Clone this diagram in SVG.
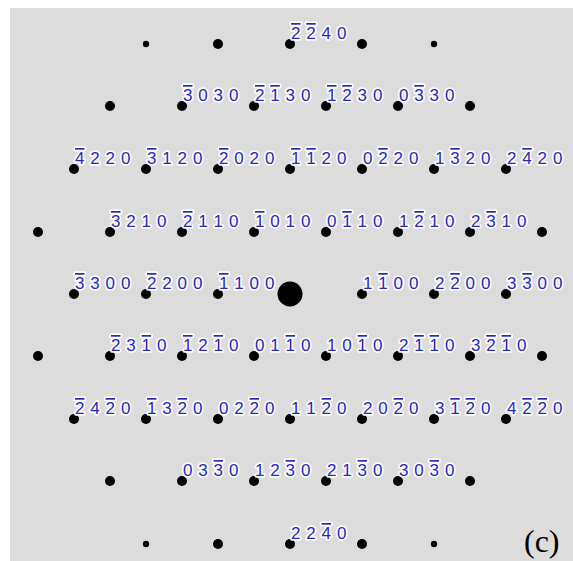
<svg xmlns="http://www.w3.org/2000/svg" width="573" height="561" viewBox="0 0 573 561">
<style>
.bg{fill:#dcdcdc}
.d{fill:#000}
.t{font-family:"Liberation Sans",Arial,sans-serif;font-size:17px;fill:#2a2ab4;stroke:#fff;stroke-width:3.5px;stroke-linejoin:round;stroke-opacity:.9;paint-order:stroke}
.o{text-decoration:overline}
.c{font-family:"Liberation Serif","Times New Roman",serif;font-size:32px;fill:#000}
</style>
<rect class="bg" x="10" y="8" width="563" height="553"/>
<g id="connectors"/>
<!-- row 0 -->
<g id="r0a"><circle class="d" cx="146" cy="44" r="3.2"/></g>
<g id="r0b"><circle class="d" cx="218" cy="44" r="5"/></g>
<g id="r0c"><circle class="d" cx="290" cy="44" r="5"/><text class="t" x="291 306.3 321.6 336.9" y="39"><tspan class="o">2</tspan><tspan class="o">2</tspan>40</text></g>
<g id="r0d"><circle class="d" cx="362" cy="44" r="5"/></g>
<g id="r0e"><circle class="d" cx="434" cy="44" r="3.2"/></g>
<!-- row 1 -->
<g id="r1a"><circle class="d" cx="110" cy="106" r="5"/></g>
<g id="r1b"><circle class="d" cx="182" cy="106" r="5"/><text class="t" x="183 198.3 213.6 228.9" y="101"><tspan class="o">3</tspan>030</text></g>
<g id="r1c"><circle class="d" cx="254" cy="106" r="5"/><text class="t" x="255 270.3 285.6 300.9" y="101"><tspan class="o">2</tspan><tspan class="o">1</tspan>30</text></g>
<g id="r1d"><circle class="d" cx="326" cy="106" r="5"/><text class="t" x="327 342.3 357.6 372.9" y="101"><tspan class="o">1</tspan><tspan class="o">2</tspan>30</text></g>
<g id="r1e"><circle class="d" cx="398" cy="106" r="5"/><text class="t" x="399 414.3 429.6 444.9" y="101">0<tspan class="o">3</tspan>30</text></g>
<g id="r1f"><circle class="d" cx="470" cy="106" r="5"/></g>
<!-- row 2 -->
<g id="r2a"><circle class="d" cx="74" cy="169" r="5"/><text class="t" x="75 90.3 105.6 120.9" y="164"><tspan class="o">4</tspan>220</text></g>
<g id="r2b"><circle class="d" cx="146" cy="169" r="5"/><text class="t" x="147 162.3 177.6 192.9" y="164"><tspan class="o">3</tspan>120</text></g>
<g id="r2c"><circle class="d" cx="218" cy="169" r="5"/><text class="t" x="219 234.3 249.6 264.9" y="164"><tspan class="o">2</tspan>020</text></g>
<g id="r2d"><circle class="d" cx="290" cy="169" r="5"/><text class="t" x="291 306.3 321.6 336.9" y="164"><tspan class="o">1</tspan><tspan class="o">1</tspan>20</text></g>
<g id="r2e"><circle class="d" cx="362" cy="169" r="5"/><text class="t" x="363 378.3 393.6 408.9" y="164">0<tspan class="o">2</tspan>20</text></g>
<g id="r2f"><circle class="d" cx="434" cy="169" r="5"/><text class="t" x="435 450.3 465.6 480.9" y="164">1<tspan class="o">3</tspan>20</text></g>
<g id="r2g"><circle class="d" cx="506" cy="169" r="5"/><text class="t" x="507 522.3 537.6 552.9" y="164">2<tspan class="o">4</tspan>20</text></g>
<!-- row 3 -->
<g id="r3a"><circle class="d" cx="38" cy="232" r="5"/></g>
<g id="r3b"><circle class="d" cx="110" cy="232" r="5"/><text class="t" x="111 126.3 141.6 156.9" y="227"><tspan class="o">3</tspan>210</text></g>
<g id="r3c"><circle class="d" cx="182" cy="232" r="5"/><text class="t" x="183 198.3 213.6 228.9" y="227"><tspan class="o">2</tspan>110</text></g>
<g id="r3d"><circle class="d" cx="254" cy="232" r="5"/><text class="t" x="255 270.3 285.6 300.9" y="227"><tspan class="o">1</tspan>010</text></g>
<g id="r3e"><circle class="d" cx="326" cy="232" r="5"/><text class="t" x="327 342.3 357.6 372.9" y="227">0<tspan class="o">1</tspan>10</text></g>
<g id="r3f"><circle class="d" cx="398" cy="232" r="5"/><text class="t" x="399 414.3 429.6 444.9" y="227">1<tspan class="o">2</tspan>10</text></g>
<g id="r3g"><circle class="d" cx="470" cy="232" r="5"/><text class="t" x="471 486.3 501.6 516.9" y="227">2<tspan class="o">3</tspan>10</text></g>
<g id="r3h"><circle class="d" cx="542" cy="232" r="5"/></g>
<!-- row 4 -->
<g id="r4a"><circle class="d" cx="74" cy="294" r="5"/><text class="t" x="75 90.3 105.6 120.9" y="289"><tspan class="o">3</tspan>300</text></g>
<g id="r4b"><circle class="d" cx="146" cy="294" r="5"/><text class="t" x="147 162.3 177.6 192.9" y="289"><tspan class="o">2</tspan>200</text></g>
<g id="r4c"><circle class="d" cx="218" cy="294" r="5"/><text class="t" x="219 234.3 249.6 264.9" y="289"><tspan class="o">1</tspan>100</text></g>
<g id="center"><circle class="d" cx="290" cy="294" r="12.5"/></g>
<g id="r4e"><circle class="d" cx="362" cy="294" r="5"/><text class="t" x="363 378.3 393.6 408.9" y="289">1<tspan class="o">1</tspan>00</text></g>
<g id="r4f"><circle class="d" cx="434" cy="294" r="5"/><text class="t" x="435 450.3 465.6 480.9" y="289">2<tspan class="o">2</tspan>00</text></g>
<g id="r4g"><circle class="d" cx="506" cy="294" r="5"/><text class="t" x="507 522.3 537.6 552.9" y="289">3<tspan class="o">3</tspan>00</text></g>
<!-- row 5 -->
<g id="r5a"><circle class="d" cx="38" cy="356" r="5"/></g>
<g id="r5b"><circle class="d" cx="110" cy="356" r="5"/><text class="t" x="111 126.3 141.6 156.9" y="351"><tspan class="o">2</tspan>3<tspan class="o">1</tspan>0</text></g>
<g id="r5c"><circle class="d" cx="182" cy="356" r="5"/><text class="t" x="183 198.3 213.6 228.9" y="351"><tspan class="o">1</tspan>2<tspan class="o">1</tspan>0</text></g>
<g id="r5d"><circle class="d" cx="254" cy="356" r="5"/><text class="t" x="255 270.3 285.6 300.9" y="351">01<tspan class="o">1</tspan>0</text></g>
<g id="r5e"><circle class="d" cx="326" cy="356" r="5"/><text class="t" x="327 342.3 357.6 372.9" y="351">10<tspan class="o">1</tspan>0</text></g>
<g id="r5f"><circle class="d" cx="398" cy="356" r="5"/><text class="t" x="399 414.3 429.6 444.9" y="351">2<tspan class="o">1</tspan><tspan class="o">1</tspan>0</text></g>
<g id="r5g"><circle class="d" cx="470" cy="356" r="5"/><text class="t" x="471 486.3 501.6 516.9" y="351">3<tspan class="o">2</tspan><tspan class="o">1</tspan>0</text></g>
<g id="r5h"><circle class="d" cx="542" cy="356" r="5"/></g>
<!-- row 6 -->
<g id="r6a"><circle class="d" cx="74" cy="419" r="5"/><text class="t" x="75 90.3 105.6 120.9" y="414"><tspan class="o">2</tspan>4<tspan class="o">2</tspan>0</text></g>
<g id="r6b"><circle class="d" cx="146" cy="419" r="5"/><text class="t" x="147 162.3 177.6 192.9" y="414"><tspan class="o">1</tspan>3<tspan class="o">2</tspan>0</text></g>
<g id="r6c"><circle class="d" cx="218" cy="419" r="5"/><text class="t" x="219 234.3 249.6 264.9" y="414">02<tspan class="o">2</tspan>0</text></g>
<g id="r6d"><circle class="d" cx="290" cy="419" r="5"/><text class="t" x="291 306.3 321.6 336.9" y="414">11<tspan class="o">2</tspan>0</text></g>
<g id="r6e"><circle class="d" cx="362" cy="419" r="5"/><text class="t" x="363 378.3 393.6 408.9" y="414">20<tspan class="o">2</tspan>0</text></g>
<g id="r6f"><circle class="d" cx="434" cy="419" r="5"/><text class="t" x="435 450.3 465.6 480.9" y="414">3<tspan class="o">1</tspan><tspan class="o">2</tspan>0</text></g>
<g id="r6g"><circle class="d" cx="506" cy="419" r="5"/><text class="t" x="507 522.3 537.6 552.9" y="414">4<tspan class="o">2</tspan><tspan class="o">2</tspan>0</text></g>
<!-- row 7 -->
<g id="r7a"><circle class="d" cx="110" cy="481" r="5"/></g>
<g id="r7b"><circle class="d" cx="182" cy="481" r="5"/><text class="t" x="183 198.3 213.6 228.9" y="476">03<tspan class="o">3</tspan>0</text></g>
<g id="r7c"><circle class="d" cx="254" cy="481" r="5"/><text class="t" x="255 270.3 285.6 300.9" y="476">12<tspan class="o">3</tspan>0</text></g>
<g id="r7d"><circle class="d" cx="326" cy="481" r="5"/><text class="t" x="327 342.3 357.6 372.9" y="476">21<tspan class="o">3</tspan>0</text></g>
<g id="r7e"><circle class="d" cx="398" cy="481" r="5"/><text class="t" x="399 414.3 429.6 444.9" y="476">30<tspan class="o">3</tspan>0</text></g>
<g id="r7f"><circle class="d" cx="470" cy="481" r="5"/></g>
<!-- row 8 -->
<g id="r8a"><circle class="d" cx="146" cy="544" r="3.2"/></g>
<g id="r8b"><circle class="d" cx="218" cy="544" r="5"/></g>
<g id="r8c"><circle class="d" cx="290" cy="544" r="5"/><text class="t" x="291 306.3 321.6 336.9" y="539">22<tspan class="o">4</tspan>0</text></g>
<g id="r8d"><circle class="d" cx="362" cy="544" r="5"/></g>
<g id="r8e"><circle class="d" cx="434" cy="544" r="3.2"/></g>
<g id="caption"><text class="c" x="524" y="552">(c)</text></g>
</svg>
